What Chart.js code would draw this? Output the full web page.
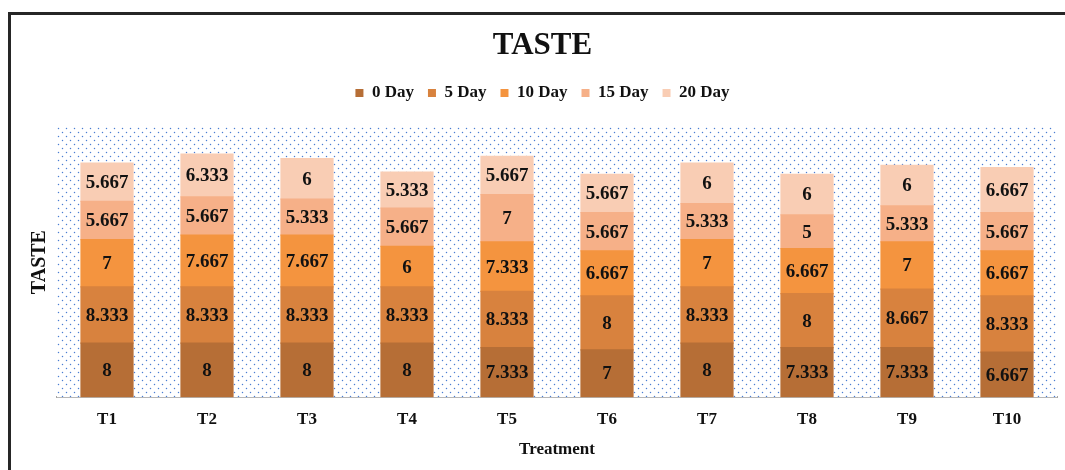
<!DOCTYPE html>
<html>
<head>
<meta charset="utf-8">
<script src="https://cdn.jsdelivr.net/npm/chart.js@4"></script>
<style>
  html, body { margin: 0; padding: 0; background: #fff; }
  #wrap { position: relative; width: 1065px; height: 470px; overflow: hidden; }
  #frame { position: absolute; left: 8px; top: 12px; width: 1100px; height: 520px;
           border-left: 3px solid #262626; border-top: 3px solid #262626; box-sizing: border-box; }
  canvas { position: absolute; left: 0; top: 0; }
</style>
</head>
<body>
<div id="wrap">
  <div id="frame"></div>
  <canvas id="c" width="1065" height="470"></canvas>
</div>
<script>
const categories = ['T1','T2','T3','T4','T5','T6','T7','T8','T9','T10'];
const seriesNames = ['0 Day','5 Day','10 Day','15 Day','20 Day'];
const day0  = [8, 8, 8, 8, 7.333, 7, 8, 7.333, 7.333, 6.667];
const day5  = [8.333, 8.333, 8.333, 8.333, 8.333, 8, 8.333, 8, 8.667, 8.333];
const day10 = [7, 7.667, 7.667, 6, 7.333, 6.667, 7, 6.667, 7, 6.667];
const day15 = [5.667, 5.667, 5.333, 5.667, 7, 5.667, 5.333, 5, 5.333, 5.667];
const day20 = [5.667, 6.333, 6, 5.333, 5.667, 5.667, 6, 6, 6, 6.667];
const seriesColors = ['#B66E36', '#D8823E', '#F4943F', '#F6B088', '#F9CDB4'];
const yMin = 0, yMax = 40;

const SERIF = '"Liberation Serif", "Times New Roman", serif';

// dotted background pattern
function makePattern(ctx) {
  const pc = document.createElement('canvas');
  pc.width = 8; pc.height = 8;
  const p = pc.getContext('2d');
  [[1, 1], [5, 5]].forEach(([x, y]) => {
    p.fillStyle = 'rgba(110,155,220,0.18)';
    p.fillRect(x - 1, y, 3, 1);
    p.fillRect(x, y - 1, 1, 3);
    p.fillStyle = 'rgb(75,125,210)';
    p.fillRect(x, y, 1, 1);
  });
  return ctx.createPattern(pc, 'repeat');
}

const bgPlugin = {
  id: 'dotBg',
  beforeDatasetsDraw(chart) {
    const {ctx, chartArea: a} = chart;
    ctx.save();
    ctx.fillStyle = '#ffffff';
    ctx.fillRect(a.left, a.top, a.right - a.left, a.bottom - a.top);
    ctx.fillStyle = makePattern(ctx);
    ctx.translate(a.left, a.top);
    ctx.fillRect(0, 0, a.right - a.left, a.bottom - a.top);
    ctx.restore();
  }
};

const labelPlugin = {
  id: 'segLabels',
  afterDatasetsDraw(chart) {
    const {ctx} = chart;
    ctx.save();
    ctx.font = 'bold 19px ' + SERIF;
    ctx.fillStyle = '#111';
    ctx.textAlign = 'center';
    ctx.textBaseline = 'middle';
    chart.data.datasets.forEach((ds, i) => {
      const meta = chart.getDatasetMeta(i);
      meta.data.forEach((el, j) => {
        const v = ds.data[j];
        ctx.fillText(String(v), el.x, (el.y + el.base) / 2 + 1);
      });
    });
    ctx.restore();
  }
};

const legendSpace = {
  id: 'legendSpace',
  beforeInit(chart) {
    const orig = chart.legend.fit;
    chart.legend.fit = function () {
      orig.bind(chart.legend)();
      this.height += 15.5;
    };
  }
};

const dataArrays = [day0, day5, day10, day15, day20];

new Chart(document.getElementById('c'), {
  type: 'bar',
  data: {
    labels: categories,
    datasets: seriesNames.map((n, i) => ({
      label: n,
      data: dataArrays[i],
      backgroundColor: seriesColors[i],
      borderWidth: 0,
      inflateAmount: 0.6,
      barPercentage: 0.52,
      categoryPercentage: 1.0
    }))
  },
  options: {
    responsive: false,
    devicePixelRatio: 1,
    animation: false,
    layout: { padding: { top: 0, left: 28, right: 8, bottom: 4 } },
    plugins: {
      title: {
        display: true, text: 'TASTE', color: '#111',
        font: { family: SERIF, size: 31, weight: 'bold' },
        padding: { top: 27.4, bottom: 5.9 }
      },
      legend: {
        display: true, position: 'top',
        labels: {
          color: '#111', boxWidth: 8, boxHeight: 8, padding: 14,
          font: { family: SERIF, size: 17, weight: 'bold' }
        }
      },
      tooltip: { enabled: false }
    },
    scales: {
      x: {
        stacked: true,
        grid: { display: false, drawTicks: false },
        border: { display: true, color: '#a6a6a6', width: 2 },
        ticks: { color: '#111', padding: 12, font: { family: SERIF, size: 17, weight: 'bold' } },
        title: { display: true, text: 'Treatment', color: '#111',
                 font: { family: SERIF, size: 17, weight: 'bold' }, padding: { top: -2, bottom: 6 } }
      },
      y: {
        stacked: true, min: yMin, max: yMax,
        grid: { display: false, drawTicks: false },
        border: { display: false },
        ticks: { display: false },
        title: { display: true, text: 'TASTE', color: '#111',
                 font: { family: SERIF, size: 20, weight: 'bold' }, padding: { top: 0, bottom: 5 } }
      }
    }
  },
  plugins: [bgPlugin, labelPlugin, legendSpace]
});
</script>
</body>
</html>
